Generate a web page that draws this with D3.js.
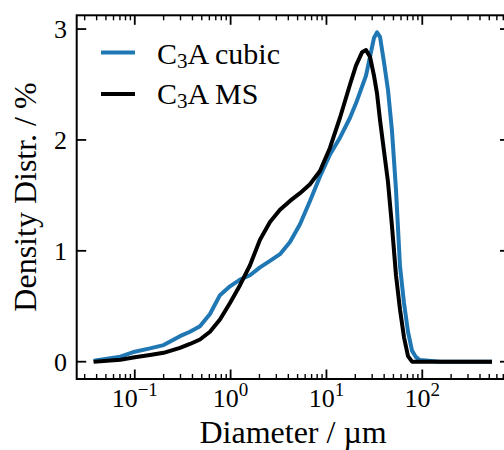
<!DOCTYPE html>
<html>
<head>
<meta charset="utf-8">
<script src="https://cdn.jsdelivr.net/npm/d3@7"></script>
<style>
  html, body { margin: 0; padding: 0; background: #fff; }
  svg { display: block; }
  text { font-family: "Liberation Serif", "Times New Roman", serif; fill: #000; }
</style>
</head>
<body>
<div id="chart"></div>
<script>
// Particle size distribution: diameter in µm (log axis), density in %
const diameters = [
  0.039, 0.0707, 0.1, 0.144, 0.2, 0.296, 0.377, 0.479, 0.609,
  0.774, 0.985, 1.253, 1.593, 2.025, 2.576, 3.275, 4.164, 5.296, 6.733,
  8.563, 10.89, 13.84, 17.61, 20.33, 23.49, 25.86, 28.47, 31.33, 33.69,
  36.21, 39.85, 43.87, 48.30, 53.17, 58.54, 64.44, 70.94, 78.10, 85.97,
  94.65, 153, 247.5, 509
];
const cubic = [
  0.01, 0.045, 0.09, 0.12, 0.15, 0.23, 0.27, 0.32, 0.43,
  0.60, 0.68, 0.74, 0.78, 0.85, 0.91, 0.97, 1.08, 1.24, 1.45,
  1.67, 1.87, 2.02, 2.20, 2.33, 2.48, 2.58, 2.75, 2.92, 2.97,
  2.93, 2.70, 2.45, 2.08, 1.55, 0.86, 0.53, 0.27, 0.10, 0.04,
  0.015, 0.0, 0.0, 0.0
];
const ms = [
  0.0, 0.018, 0.04, 0.06, 0.08, 0.125, 0.16, 0.20, 0.27,
  0.38, 0.53, 0.69, 0.87, 1.10, 1.26, 1.37, 1.45, 1.52, 1.60,
  1.72, 1.93, 2.20, 2.50, 2.67, 2.79, 2.81, 2.75, 2.58, 2.42,
  2.18, 1.90, 1.62, 1.22, 0.78, 0.47, 0.22, 0.05, 0.0, 0.0,
  0.0, 0.0, 0.0, 0.0
];
const seriesNames = ["C3A cubic", "C3A MS"];
const seriesColors = ["#1f77b4", "#000000"];
const yTicks = [0, 1, 2, 3];
const xTickExps = [-1, 0, 1, 2];

const W = 504, H = 450;
const plotL = 76.7, plotR = 509.5, plotT = 15.3, plotB = 379;

const svg = d3.select("#chart").append("svg")
  .attr("width", W).attr("height", H);

const x = d3.scaleLog()
  .domain([Math.pow(10, -1.606), Math.pow(10, 2.91)])
  .range([plotL, plotR]);
const y = d3.scaleLinear()
  .domain([-0.156, 3.124])
  .range([plotB, plotT]);

// curves
const line = d3.line()
  .x(d => x(d[0]))
  .y(d => y(d[1]));

[cubic, ms].forEach((vals, i) => {
  svg.append("path")
    .datum(diameters.map((d, j) => [d, vals[j]]))
    .attr("d", line)
    .attr("fill", "none")
    .attr("stroke", seriesColors[i])
    .attr("stroke-width", 4)
    .attr("stroke-linejoin", "round")
    .attr("stroke-linecap", "square");
});

// ticks (inward on all four sides)
const majLen = 9.5, minLen = 5;
const tickG = svg.append("g").attr("stroke", "#000");

const majorX = xTickExps.map(e => Math.pow(10, e));
const minorX = [];
for (let e = -2; e <= 2; e++) {
  for (let m = 2; m <= 9; m++) {
    const v = m * Math.pow(10, e);
    if (v > x.domain()[0] && v < x.domain()[1]) minorX.push(v);
  }
}

majorX.forEach(v => {
  const px = x(v);
  tickG.append("line").attr("x1", px).attr("x2", px)
    .attr("y1", plotB).attr("y2", plotB - majLen).attr("stroke-width", 1.8);
  tickG.append("line").attr("x1", px).attr("x2", px)
    .attr("y1", plotT).attr("y2", plotT + majLen).attr("stroke-width", 1.8);
});
minorX.forEach(v => {
  const px = x(v);
  tickG.append("line").attr("x1", px).attr("x2", px)
    .attr("y1", plotB).attr("y2", plotB - minLen).attr("stroke-width", 1.4);
  tickG.append("line").attr("x1", px).attr("x2", px)
    .attr("y1", plotT).attr("y2", plotT + minLen).attr("stroke-width", 1.4);
});
yTicks.forEach(v => {
  const py = y(v);
  tickG.append("line").attr("x1", plotL).attr("x2", plotL + majLen)
    .attr("y1", py).attr("y2", py).attr("stroke-width", 1.8);
  tickG.append("line").attr("x1", plotR).attr("x2", plotR - majLen)
    .attr("y1", py).attr("y2", py).attr("stroke-width", 1.8);
});

// frame
svg.append("rect")
  .attr("x", plotL).attr("y", plotT)
  .attr("width", plotR - plotL).attr("height", plotB - plotT)
  .attr("fill", "none").attr("stroke", "#000").attr("stroke-width", 2);

// y tick labels
yTicks.forEach(v => {
  svg.append("text")
    .attr("x", 67).attr("y", y(v))
    .attr("dy", "0.34em")
    .attr("text-anchor", "end")
    .attr("font-size", 26)
    .text(v);
});

// x tick labels as powers of ten
xTickExps.forEach(e => {
  const t = svg.append("text")
    .attr("x", x(Math.pow(10, e))).attr("y", 407)
    .attr("text-anchor", "middle")
    .attr("font-size", 26);
  t.append("tspan").text("10");
  t.append("tspan").attr("dy", -11).attr("font-size", 19)
    .text(e < 0 ? "\u2212" + Math.abs(e) : String(e));
});

// axis titles
svg.append("text")
  .attr("x", (plotL + plotR) / 2).attr("y", 443)
  .attr("text-anchor", "middle")
  .attr("font-size", 32)
  .text("Diameter / µm");

svg.append("text")
  .attr("transform", "translate(36,197) rotate(-90)")
  .attr("text-anchor", "middle")
  .attr("font-size", 32)
  .text("Density Distr. / %");

// legend
const legendRows = [
  { lineY: 52.5, textY: 63.5 },
  { lineY: 94, textY: 104 }
];
seriesNames.forEach((name, i) => {
  const r = legendRows[i];
  svg.append("line")
    .attr("x1", 101).attr("x2", 135)
    .attr("y1", r.lineY).attr("y2", r.lineY)
    .attr("stroke", seriesColors[i]).attr("stroke-width", 4);
  const t = svg.append("text")
    .attr("x", 157).attr("y", r.textY)
    .attr("font-size", 30);
  const parts = name.split("3");
  t.append("tspan").text(parts[0]);
  t.append("tspan").attr("dy", 4).attr("font-size", 21).text("3");
  t.append("tspan").attr("dy", -4).text(parts[1]);
});
</script>
</body>
</html>
